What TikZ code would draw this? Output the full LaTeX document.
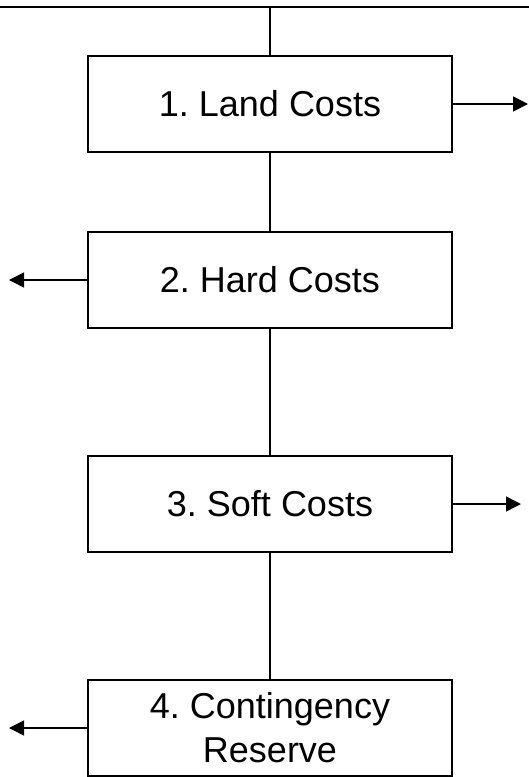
\documentclass[tikz,border=0pt]{standalone}
\usepackage{fontspec}
\setmainfont{Liberation Sans}
\usetikzlibrary{arrows.meta}
\frenchspacing
\begin{document}
\begin{tikzpicture}[x=1pt,y=-1pt,
  costbox/.style={draw,line width=2pt,minimum width=364pt,minimum height=96pt,
    inner sep=0pt,align=center,font=\fontsize{36}{44}\selectfont},
  link/.style={line width=2pt},
  outflow/.style={line width=1.5pt,-{Triangle[length=15pt,width=15pt]}}]
\useasboundingbox (0,0) rectangle (529,777);
% top bus line and the four cost boxes
\coordinate (busL) at (0,7);
\coordinate (busR) at (529,7);
\coordinate (busM) at (270,7);
\node[costbox] (land) at (270,104) {1. Land Costs};
\node[costbox] (hard) at (270,280) {2. Hard Costs};
\node[costbox] (soft) at (270,504) {3. Soft Costs};
\node[costbox] (cont) at (270,728) {4. Contingency\\Reserve};
% outflow ends
\coordinate (o1) at (528,104);
\coordinate (o2) at (9,280);
\coordinate (o3) at (521,504);
\coordinate (o4) at (9,728);
% spine
\draw[link] (busL) -- (busR);
\draw[link] (busM) -- (land.north);
\draw[link] (land) -- (hard);
\draw[link] (hard) -- (soft);
\draw[link] (soft) -- (cont);
% outflow arrows
\draw[outflow] (land.east) -- (o1);
\draw[outflow] (hard.west) -- (o2);
\draw[outflow] (soft.east) -- (o3);
\draw[outflow] (cont.west) -- (o4);
\end{tikzpicture}
\end{document}
